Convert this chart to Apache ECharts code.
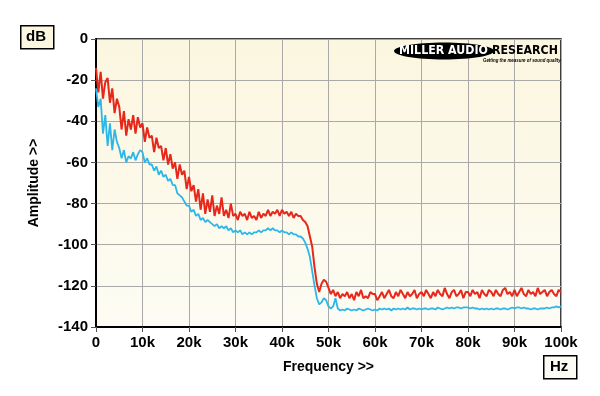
<!DOCTYPE html>
<html>
<head>
<meta charset="utf-8">
<script src="https://cdn.jsdelivr.net/npm/echarts@6/dist/echarts.min.js"></script>
<style>
html,body{margin:0;padding:0;background:#ffffff;}
#chart{width:600px;height:396px;}
</style>
</head>
<body>
<div id="chart"></div>
<script>
// Frequency in kHz
var freqKHz = [
0,0.5,1,1.5,2,2.5,3,3.5,4,4.5,5,5.5,6,6.5,7,7.5,8,8.5,9,9.5,
10,10.5,11,11.5,12,12.5,13,13.5,14,14.5,15,15.5,16,16.5,17,17.5,18,18.5,19,19.5,
20,20.5,21,21.5,22,22.5,23,23.5,24,24.5,25,25.5,26,26.5,27,27.5,28,28.5,29,29.5,
30,30.5,31,31.5,32,32.5,33,33.5,34,34.5,35,35.5,36,36.5,37,37.5,38,38.5,39,39.5,
40,40.5,41,41.5,42,42.5,43,43.5,44,44.5,45,45.5,46,46.5,47,47.5,48,48.5,49,49.5,
50,50.5,51,51.5,52,52.5,53,53.5,54,54.5,55,55.5,56,56.5,57,57.5,58,58.5,59,59.5,
60,60.5,61,61.5,62,62.5,63,63.5,64,64.5,65,65.5,66,66.5,67,67.5,68,68.5,69,69.5,
70,70.5,71,71.5,72,72.5,73,73.5,74,74.5,75,75.5,76,76.5,77,77.5,78,78.5,79,79.5,
80,80.5,81,81.5,82,82.5,83,83.5,84,84.5,85,85.5,86,86.5,87,87.5,88,88.5,89,89.5,
90,90.5,91,91.5,92,92.5,93,93.5,94,94.5,95,95.5,96,96.5,97,97.5,98,98.5,99,99.5,
100];

var redDB = [
-14,-26,-16,-29,-21,-19,-31,-24,-36,-29,-33,-44,-35,-47,-39,-44,-37,-46,-38,-43,
-41,-50,-43,-48,-47,-55,-48,-53,-52,-59,-53,-61,-56,-63,-60,-68,-61,-66,-64,-73,
-67,-74,-71,-79,-73,-83,-75,-85,-78,-84,-76,-86,-81,-85,-77,-86,-83,-87,-80,-86,
-85,-88,-84,-86,-85,-88,-84,-87,-86,-88,-84,-87,-85,-86,-83,-86,-84,-85,-83,-86,
-83,-85,-84,-86,-84,-87,-85,-86,-86,-88,-89,-91,-96,-101,-111,-119,-123,-119,-117,-118,
-121,-124,-122,-125,-123,-126,-124,-125,-123,-126,-124,-127,-123,-125,-122,-126,-125,-126,-123,-124,
-124,-127,-125,-123,-126,-124,-122,-125,-126,-123,-125,-122,-124,-126,-123,-125,-124,-122,-126,-124,
-123,-125,-122,-124,-126,-123,-125,-122,-124,-125,-121,-124,-126,-123,-122,-125,-124,-122,-126,-123,
-123,-125,-122,-124,-123,-126,-122,-124,-125,-122,-123,-125,-122,-124,-125,-122,-121,-124,-123,-125,
-122,-125,-123,-121,-124,-125,-122,-124,-123,-125,-121,-124,-123,-122,-125,-123,-122,-124,-125,-122,
-123];

var blueDB = [
-24,-33,-29,-46,-37,-52,-41,-54,-44,-50,-53,-58,-54,-60,-57,-58,-55,-59,-56,-54,
-55,-60,-58,-61,-61,-64,-62,-66,-64,-67,-66,-69,-68,-71,-71,-75,-76,-77,-79,-81,
-81,-84,-83,-86,-85,-88,-87,-89,-88,-89,-90,-91,-90,-92,-91,-92,-91,-93,-92,-94,
-93,-94,-93,-95,-94,-95,-94,-95,-94,-94,-93,-94,-93,-93,-92,-93,-92,-93,-93,-94,
-93,-94,-94,-95,-94,-95,-95,-96,-96,-97,-99,-102,-106,-113,-120,-126,-129,-128,-126,-127,
-130,-131,-130,-126,-131,-132,-131.5,-132,-131,-131.5,-132,-131.5,-132,-131,-131.5,-132,-131.5,-131,-131.5,-132,
-131.5,-132,-131,-131.5,-131,-131.5,-131,-132,-131,-131.5,-131,-131.5,-131,-131.5,-130.5,-131.5,-131,-131,-131.5,-131,
-131.5,-131,-131,-131.5,-131,-131,-131.5,-130.5,-131,-131.5,-131,-130.5,-131,-130.5,-131,-130.5,-130.5,-131,-130.5,-130.5,
-130.5,-131,-130.5,-131,-131,-131.5,-131,-131.5,-131,-131.5,-131,-131.5,-131,-131,-131.5,-131,-131,-131.5,-131,-130.5,
-131,-130.5,-130.5,-131,-130.5,-131,-131,-131.5,-131,-131,-131.5,-131,-131,-131,-130.5,-131,-130.5,-130.5,-130,-130.5,
-130];

var yTicks = [0,-20,-40,-60,-80,-100,-120,-140];
var xTickLabels = ['0','10k','20k','30k','40k','50k','60k','70k','80k','90k','100k'];

function pairs(vals){
  var out = [];
  for (var i = 0; i < freqKHz.length; i++) out.push([freqKHz[i] * 1000, vals[i]]);
  return out;
}

var chart = echarts.init(document.getElementById('chart'), null, {renderer:'canvas'});
var font = '"Liberation Sans", Arial, sans-serif';

chart.setOption({
  animation: false,
  backgroundColor: '#ffffff',
  grid: {
    left: 96, top: 39, right: 39, bottom: 69,
    show: true,
    backgroundColor: {
      type: 'linear', x: 0, y: 0, x2: 0, y2: 1,
      colorStops: [{offset: 0, color: '#FBF6DF'}, {offset: 1, color: '#FDFCF4'}]
    },
    borderColor: '#000000', borderWidth: 1.5
  },
  xAxis: {
    type: 'value', min: 0, max: 100000, interval: 10000,
    axisLine: {show: true, onZero: false, lineStyle: {color: '#000', width: 2}},
    axisTick: {show: true, length: 5, lineStyle: {color: '#555', width: 1}},
    splitLine: {show: true, lineStyle: {color: '#A9A9A9', width: 1}},
    axisLabel: {
      color: '#000', fontFamily: font, fontWeight: 'bold', fontSize: 15, margin: 8,
      formatter: function (v) { return xTickLabels[Math.round(v / 10000)]; }
    },
    name: 'Frequency >>', nameLocation: 'middle', nameGap: 33,
    nameTextStyle: {color: '#000', fontFamily: font, fontWeight: 'bold', fontSize: 14}
  },
  yAxis: {
    type: 'value', min: -140, max: 0, interval: 20,
    axisLine: {show: true, lineStyle: {color: '#000', width: 2}},
    axisTick: {show: true, length: 5, lineStyle: {color: '#555', width: 1}},
    splitLine: {show: true, lineStyle: {color: '#A9A9A9', width: 1}},
    axisLabel: {
      color: '#000', fontFamily: font, fontWeight: 'bold', fontSize: 15, margin: 8,
      formatter: function (v) { return yTicks.indexOf(v) >= 0 ? String(v) : ''; }
    },
    name: 'Amplitude >>', nameLocation: 'middle', nameGap: 55, nameRotate: 90,
    nameTextStyle: {color: '#000', fontFamily: font, fontWeight: 'bold', fontSize: 14}
  },
  series: [
    {
      name: 'Blue', type: 'line', data: pairs(blueDB), showSymbol: false,
      lineStyle: {color: '#2BB7E9', width: 1.8}, z: 3
    },
    {
      name: 'Red', type: 'line', data: pairs(redDB), showSymbol: false,
      lineStyle: {color: '#E8271B', width: 2}, z: 4
    }
  ],
  graphic: [
    {type: 'rect', left: 20, top: 25, shape: {width: 33, height: 23},
      style: {fill: '#FBF6DF', stroke: '#000', lineWidth: 1.5}},
    {type: 'text', left: 26, top: 29, style: {text: 'dB', fill: '#000', font: 'bold 15px "Liberation Sans", Arial, sans-serif'}},
    {type: 'rect', left: 543, top: 355, shape: {width: 33, height: 23},
      style: {fill: '#FDFCF4', stroke: '#000', lineWidth: 1.5}},
    {type: 'text', left: 550, top: 359, style: {text: 'Hz', fill: '#000', font: 'bold 15px "Liberation Sans", Arial, sans-serif'}},
    {type: 'ellipse', shape: {cx: 444, cy: 51, rx: 50, ry: 8.5}, style: {fill: '#000'}, z: 10},
    {type: 'text', x: 399, y: 45, z: 11, scaleX: 0.92,
      style: {text: 'MILLER AUDIO', fill: '#fff', font: 'bold 12px "DejaVu Sans", sans-serif'}},
    {type: 'text', x: 492, y: 45, z: 11, scaleX: 0.92,
      style: {text: 'RESEARCH', fill: '#000', font: 'bold 12px "DejaVu Sans", sans-serif'}},
    {type: 'text', x: 483, y: 57, z: 11, scaleX: 0.8,
      style: {text: 'Getting the measure of sound quality', fill: '#000', font: 'italic bold 5.5px "Liberation Sans", sans-serif'}}
  ]
});
</script>
</body>
</html>
